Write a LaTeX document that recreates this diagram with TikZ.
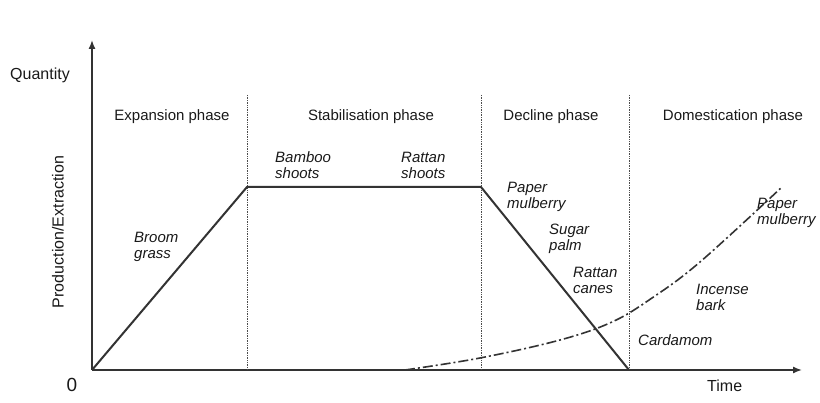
\documentclass[tikz,border=0pt]{standalone}
\usepackage{fontspec}
\setmainfont{Liberation Sans}
\usetikzlibrary{arrows.meta}
\begin{document}
\begin{tikzpicture}[x=1pt,y=-1pt,
  lbl/.style={font=\fontsize{15}{16}\selectfont, text=black!90, align=left, inner sep=0pt},
  it/.style={lbl, font=\fontsize{15}{16}\selectfont\itshape, anchor=west},
  ln/.style={black!80, line width=2pt},
  ph/.style={black!70, densely dotted, line width=0.7pt}]
\useasboundingbox (0,0) rectangle (820,403);
\coordinate (o) at (92,370);
\coordinate (ytop) at (92,40);
\coordinate (xend) at (802,370);
\draw[black!80, line width=1.4pt, -{Latex[length=9pt,width=7pt]}] (o) -- (ytop);
\draw[black!80, line width=1.4pt, -{Latex[length=9pt,width=7pt]}] (o) -- (xend);
\foreach \x/\n in {247/a,481/b,629/c}{
  \coordinate (\n t) at (\x,95); \coordinate (\n b) at (\x,370);
  \draw[ph] (\n t) -- (\n b);}
\coordinate (p1) at (247,187); \coordinate (p2) at (481,187); \coordinate (p3) at (629,370);
\draw[ln, line join=round] (o) -- (p1) -- (p2) -- (p3);
\draw[black!80, line width=1.6pt, dash pattern=on 10pt off 3pt on 2pt off 3pt]
  plot[smooth, tension=0.6] coordinates {(405,370) (480,358) (560,340) (612,322) (652,298) (700,262) (782,187)};
\node[lbl, font=\fontsize{16}{17}\selectfont, anchor=west] (q) at (10,75) {Quantity};
\node[lbl, font=\fontsize{19}{20}\selectfont] (z) at (72,385) {0};
\node[lbl, font=\fontsize{16}{17}\selectfont, anchor=west] (t) at (707,386) {Time};
\node[lbl, font=\fontsize{16}{17}\selectfont, rotate=90] (pe) at (58,232) {Production/Extraction};
\node[lbl] (e1) at (172,117) {Expansion phase};
\node[lbl] (e2) at (371,117) {Stabilisation phase};
\node[lbl] (e3) at (551,117) {Decline phase};
\node[lbl] (e4) at (733,117) {Domestication phase};
\node[it] (n1) at (275,165) {Bamboo\\shoots};
\node[it] (n2) at (401,165) {Rattan\\shoots};
\node[it] (n3) at (134,247) {Broom\\grass};
\node[it] (n4) at (507,197) {Paper\\mulberry};
\node[it] (n5) at (549,239) {Sugar\\palm};
\node[it] (n6) at (573,280) {Rattan\\canes};
\node[it] (n7) at (757,213) {Paper\\mulberry};
\node[it] (n8) at (696,297) {Incense\\bark};
\node[it] (n9) at (638,340) {Cardamom};
\end{tikzpicture}
\end{document}
